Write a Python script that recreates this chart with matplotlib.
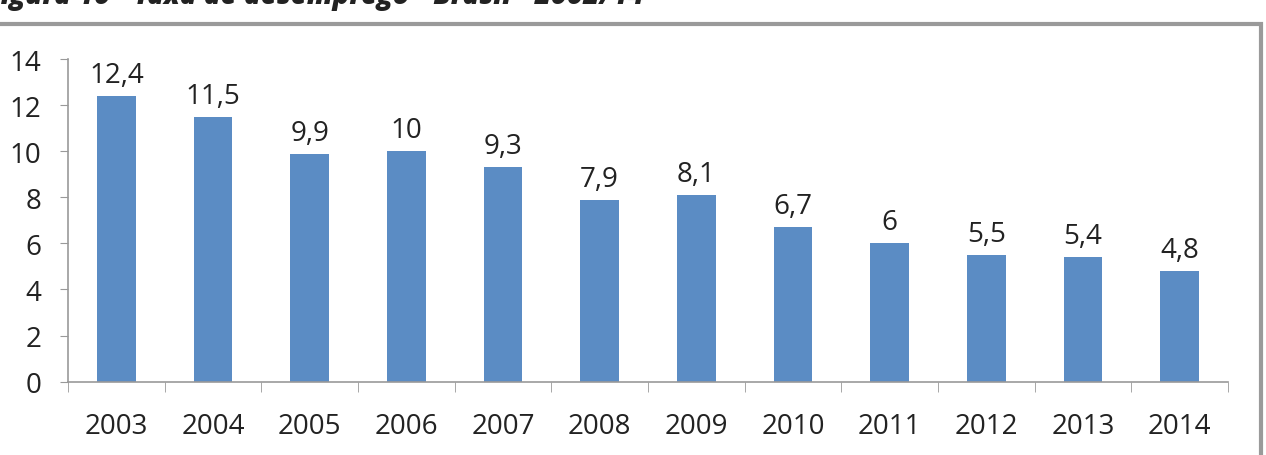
import matplotlib
matplotlib.use("Agg")
import matplotlib.pyplot as plt
from matplotlib.patches import Rectangle

years = ["2003", "2004", "2005", "2006", "2007", "2008",
         "2009", "2010", "2011", "2012", "2013", "2014"]
rates = [12.4, 11.5, 9.9, 10, 9.3, 7.9, 8.1, 6.7, 6, 5.5, 5.4, 4.8]
title = "Figura 10 - Taxa de desemprego - Brasil - 2002/14"

plt.rcParams['font.family'] = ['Open Sans', 'DejaVu Sans']

fig = plt.figure(figsize=(12.66, 4.56), dpi=100)
ax = fig.add_axes([0.0537, 0.161, 0.9163, 0.707])

x = range(len(years))
ax.bar(x, rates, width=0.4, color="#5b8cc4")

# data labels with comma decimals
for i, v in enumerate(rates):
    lbl = f"{v:g}".replace(".", ",")
    ax.annotate(lbl, (i, v), xytext=(0, 5), textcoords="offset points",
                ha="center", va="bottom", fontsize=20, color="#222222")

ax.set_xlim(-0.5, len(years) - 0.5)
ax.set_ylim(0, 14)
ax.set_yticks(range(0, 15, 2))
ax.set_xticks(x)
ax.set_xticklabels(years)
ax.set_xticks([i - 0.5 for i in range(len(years) + 1)], minor=True)
ax.tick_params(axis="x", which="major", length=0, pad=22, labelsize=20, labelcolor="#222222")
ax.tick_params(axis="x", which="minor", length=7, color="#999999", direction="out")
ax.tick_params(axis="y", length=6, color="#999999", labelsize=20, labelcolor="#222222", pad=13)

for s in ["top", "right"]:
    ax.spines[s].set_visible(False)
for s in ["left", "bottom"]:
    ax.spines[s].set_color("#999999")
    ax.spines[s].set_linewidth(1.2)

# chart frame, partly off the picture like the scan
fig.patches.append(Rectangle((-0.01, -0.05), 1.006, 0.995, transform=fig.transFigure,
                             fill=False, edgecolor="#9a9a9a", linewidth=3))

# figure caption, cut off at the top edge
fig.text(-0.012, 1 - 4 / 456, title, ha="left", va="baseline", fontsize=20,
         fontweight="heavy", fontstyle="italic", color="#222222")

fig.savefig("out.png", dpi=100)
